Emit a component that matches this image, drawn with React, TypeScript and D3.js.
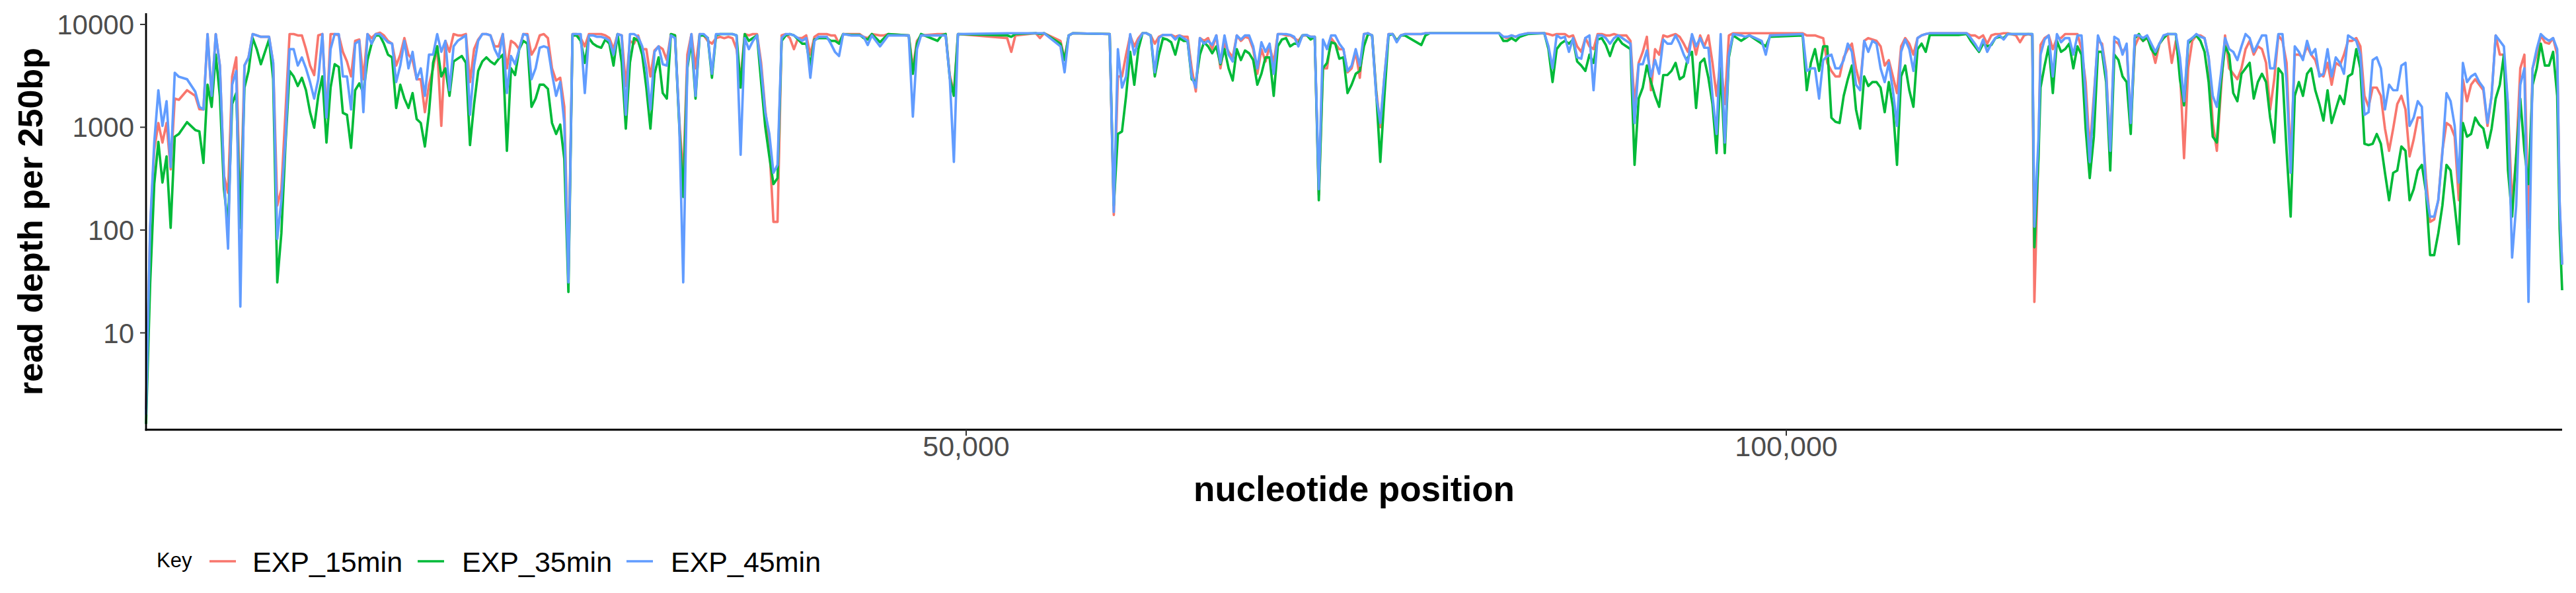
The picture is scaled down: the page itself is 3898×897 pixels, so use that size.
import React from 'react';
import * as d3 from 'd3';

// bin start positions (bp) and read depth per 250bp bin
const positions = [
  0, 250, 500, 750, 1000, 1250, 1500, 1750, 2000,
  2500, 3000, 3250, 3500, 3750, 4000, 4250, 4500, 4750, 5000,
  5250, 5500, 5750, 6000, 6250, 6500, 6750, 7000, 7500, 7750,
  8000, 8250, 8500, 8750, 9000, 9250, 9500, 9750, 10000, 10250,
  10500, 10750, 11000, 11250, 11500, 11750, 12000, 12250, 12500, 12750,
  13000, 13250, 13500, 13750, 14000, 14250, 14500, 14750, 15000, 15250,
  15500, 15750, 16000, 16250, 16500, 16750, 17000, 17250, 17500, 17750,
  18000, 18250, 18500, 18750, 19000, 19250, 19500, 19750, 20000, 20250,
  20500, 20750,
  21000, 21250, 21500, 21750, 22000, 22250, 22500, 22750, 23000, 23250,
  23500, 23750, 24000, 24250, 24500, 24750, 25000, 25250, 25500, 25750,
  26000, 26250, 26500, 26750, 27000, 27250, 27500, 27750, 28000, 28250,
  28500, 28750, 29000, 29250, 29500, 29750, 30000, 30250, 30500, 30750,
  31000, 31250, 31500, 31750, 32000, 32250, 32500, 32750, 33000, 33250,
  33500, 33750, 34000, 34250, 34500, 34750, 35000, 35250, 35500, 35750,
  36000, 36250, 36500, 36750, 37000, 37250, 37500, 37750, 38000, 38250,
  38500, 38750, 39000, 39250, 39500, 39750, 40000, 40250, 40500, 40750,
  41000, 41250, 41500, 41750, 42000,
  42250, 42500, 43000, 43500, 43750, 44000, 44250, 44750, 45000, 45250,
  46500, 46750, 47000, 47250, 48250, 48500, 48750, 49000, 49250, 49500,
  52500, 52750, 53000, 54250, 54500, 54750, 55750, 56000, 56250, 56500,
  58750, 59000, 59250, 59500, 59750, 60000, 60250, 60500, 60750, 61000,
  61250, 61500, 61750, 62000, 62250, 62500, 62750, 63000,
  63250, 63500, 63750, 64000, 64250, 64500, 64750, 65000, 65250, 65500,
  65750, 66000, 66250, 66500, 66750, 67000, 67250, 67500, 67750, 68000,
  68250, 68500, 68750, 69000, 69250, 69500, 69750, 70000, 70250, 70500,
  70750, 71000, 71250, 71500, 71750, 72000, 72250, 72500, 72750, 73000,
  73250, 73500, 73750, 74000, 74250, 74500, 74750, 75000, 75250, 75500,
  75750, 76000, 76250, 76500, 76750, 77750, 78000, 78250, 82500, 82750,
  83000, 83250, 83500, 83750, 84000, 84250,
  85250, 85500, 85750, 86000, 86250, 86500, 86750, 87000, 87250, 87500,
  87750, 88000, 88250, 88500, 88750, 89000, 89250, 89500, 89750, 90000,
  90250, 90500, 90750, 91000, 91250, 91500, 91750, 92000, 92250, 92500,
  92750, 93000, 93250, 93500, 93750, 94000, 94250, 94500, 94750, 95000,
  95250, 95500, 95750, 96000, 96250, 96500, 96750, 97250, 97500, 97750,
  98500, 98750, 99000, 101000, 101250, 101500, 101750, 102000, 102250, 102500,
  102750, 103000, 103250, 103500, 103750, 104000, 104250, 104500, 104750, 105000,
  105250, 105500,
  105750, 106000, 106250, 106500, 106750, 107000, 107250, 107500, 107750, 108000,
  108250, 108500, 108750, 110500, 111000, 111250, 111500, 111750, 112000, 112250,
  112500, 112750, 113000, 113250, 113500, 114000, 114250, 114500, 114750, 115000,
  115125, 115375, 115500, 115750, 116000, 116250, 116500, 116750, 117000, 117250,
  117500, 117750, 118000, 118250, 118500, 118750, 119000, 119250, 119500, 119750,
  120000, 120250, 120500, 120750, 121000, 121250, 121500, 121750, 122000, 122250,
  122500, 122750, 123000, 123250, 123500, 123750, 124000, 124250, 124500, 124750,
  125000, 125250, 125500, 125750, 126000, 126250, 126500,
  126750, 127000, 127250, 127500, 127750, 128000, 128250, 128500, 128750, 129000,
  129250, 129500, 129750, 130000, 130250, 130500, 130750, 131000, 131250, 131500,
  131750, 132000, 132250, 132500, 132750, 133000, 133250, 133500, 133750, 134000,
  134250, 134500, 134750, 135000, 135250, 135500, 135750, 136000, 136250, 136500,
  136750, 137000, 137250, 137500, 137750, 138000, 138250, 138500, 138750, 139000,
  139250, 139500, 139750, 140000, 140250, 140500, 140750, 141000, 141250, 141500,
  141750, 142000, 142250, 142500, 142750, 143000, 143250, 143500, 143750, 144000,
  144250, 144500, 144750, 145000, 145250, 145500, 145750, 146000, 146250, 146500,
  146750, 147000, 147150, 147300,
];

const exp15min = [
  1.8, 100, 600, 1100, 710, 1100, 390, 1900, 1850,
  2290, 2020, 1500, 1490, 8060, 2020, 8060, 3980, 340, 230,
  3120, 4780, 127, 3980, 4780, 8060, 7820, 7580, 7580, 4230,
  173, 250, 1400, 8060, 8060, 7820, 7820, 5750, 3980, 3220,
  7820, 8060, 1240, 8060, 8060, 7820, 5410, 4360, 3120, 6920,
  7130, 2930, 8060, 7360, 8060, 8320, 7820, 6920, 6500, 3980,
  5080, 7360, 5080, 4500, 2930, 2930, 1400, 2590, 3740, 6120,
  1030, 6920, 5410, 8060, 7820, 7820, 8060, 2750, 5750, 7130,
  8060, 8060,
  7820, 6120, 6120, 8060, 3740, 6920, 6500, 5750, 8060, 8060,
  5080, 5930, 7820, 8060, 7360, 3740, 2850, 3030, 1580, 37,
  8060, 8060, 7360, 6120, 8060, 8060, 8060, 8060, 7820, 7360,
  5750, 8060, 7820, 2520, 6920, 6500, 7820, 5750, 5750, 3120,
  5580, 6120, 5750, 4500, 8060, 7820, 1240, 320, 5080, 8060,
  3740, 8060, 7820, 6920, 6500, 7360, 7580, 7360, 7580, 7360,
  5750, 2930, 8060, 7820, 8060, 8060, 4230, 1490, 670, 120,
  120, 7820, 8060, 7360, 5750, 7360, 7360, 7820, 5080, 7580,
  8060, 8060, 8060, 7820, 7820,
  6500, 8060, 8060, 8060, 7580, 7360, 8060, 7820, 7820, 8060,
  7820, 3740, 6920, 7820, 8060, 8060, 8060, 3220, 2150, 8060,
  7360, 5410, 7820, 8210, 7360, 8210, 6920, 4640, 7820, 8210,
  8060, 140, 3120, 3120, 5080, 7820, 6120, 7360, 8210, 8210,
  7820, 6500, 7580, 7910, 7910, 7910, 7580, 7820,
  7580, 7580, 3740, 2230, 7360, 6920, 7360, 5750, 7820, 3740,
  6500, 5410, 4780, 7820, 6920, 7580, 7360, 5750, 3310, 5750,
  4360, 6120, 4230, 8060, 8060, 7820, 7820, 7360, 6920, 7820,
  7820, 7580, 7580, 220, 3740, 3740, 7360, 6500, 5750, 5750,
  3420, 3740, 5410, 3030, 8060, 8210, 7820, 2290, 1000, 3120,
  8060, 8060, 6920, 7820, 8060, 8060, 8210, 8210, 8210, 7580,
  7360, 7820, 7580, 7820, 8060, 8210,
  8210, 8060, 7820, 8060, 8060, 8060, 7580, 7820, 6120, 5410,
  7360, 6120, 5750, 8060, 8060, 7820, 7820, 8060, 7820, 7820,
  7820, 6920, 1680, 4230, 5410, 7580, 2290, 5750, 5080, 7820,
  7580, 7820, 8060, 7580, 6500, 5410, 7820, 5080, 7820, 6120,
  7820, 4230, 2020, 4500, 1680, 7820, 8210, 8210, 8210, 8210,
  8210, 8210, 8210, 8210, 7820, 7820, 7820, 7580, 7360, 4230,
  3530, 3120, 3120, 4780, 5750, 6500, 3740, 2590, 6920, 7360,
  7130, 6920,
  6120, 3980, 4500, 3120, 2150, 6120, 7360, 6500, 5080, 7360,
  7820, 8060, 8210, 8210, 8210, 7820, 7820, 7360, 7820, 6500,
  7820, 8060, 8060, 8210, 8210, 7820, 6710, 7820, 8060, 7820,
  20, 600, 6310, 7360, 7820, 5750, 7360, 7360, 8060, 8060,
  8060, 8060, 5750, 2750, 590, 2020, 6920, 6500, 3530, 590,
  6920, 6500, 5410, 6120, 1100, 6120, 7580, 6920, 7360, 6120,
  4230, 6500, 7360, 8060, 4230, 6920, 3740, 500, 3740, 6920,
  7820, 7820, 7360, 4780, 1100, 590, 2290,
  7820, 3740, 3310, 2930, 3740, 5750, 6920, 5080, 6120, 5750,
  4230, 1490, 2930, 7820, 6920, 4230, 430, 5080, 5080, 4780,
  6120, 5080, 4500, 3310, 3120, 4230, 2590, 4230, 3980, 5080,
  6920, 6920, 7360, 6120, 2020, 1580, 2430, 2430, 2020, 970,
  590, 970, 1680, 2020, 1490, 520, 760, 1240, 1240, 320,
  120, 127, 195, 590, 1100, 1030, 810, 195, 2930, 1790,
  2590, 2930, 2590, 2290, 1030, 2020, 7820, 5080, 5080, 1580,
  173, 520, 3740, 5080, 105, 3740, 5080, 7820, 6710, 6500,
  7360, 5080, 173, 46,
];

const exp35min = [
  1.3, 30, 280, 720, 290, 520, 105, 810, 860,
  1120, 940, 910, 450, 2590, 1580, 5080, 2020, 250, 110,
  1680, 2150, 105, 2430, 3530, 7360, 5750, 4100, 7130, 2930,
  31, 93, 670, 3530, 3120, 2520, 3030, 2290, 1400, 990,
  2020, 3120, 710, 2430, 4100, 3860, 1380, 1320, 630, 2290,
  2670, 2150, 4500, 6500, 7820, 7820, 6500, 5080, 4780, 1540,
  2590, 1900, 1540, 2150, 1200, 1100, 650, 1400, 4230, 6120,
  3120, 3740, 2020, 4360, 4640, 4930, 4230, 670, 1680, 3530,
  4360, 4780,
  4360, 4100, 4640, 5080, 590, 3740, 3220, 5750, 6920, 6500,
  1580, 1900, 2590, 2590, 2360, 1100, 860, 1060, 490, 25,
  7820, 7820, 6920, 4230, 7360, 6500, 6120, 5930, 7130, 6500,
  3980, 8060, 4230, 970, 4230, 7360, 6920, 5080, 2430, 970,
  3310, 4780, 2150, 1900, 8060, 7820, 1100, 210, 3740, 6920,
  1900, 7820, 7820, 7360, 3030, 7820, 8060, 8060, 8060, 8060,
  7820, 2430, 8060, 6920, 7360, 7820, 2750, 1010, 520, 280,
  320, 6920, 7820, 8060, 7820, 7130, 6500, 6500, 3980, 7130,
  7360, 7360, 7360, 6920, 6920,
  6500, 8060, 7910, 7910, 7360, 7130, 8060, 6710, 7360, 8060,
  7820, 3310, 6500, 8060, 6920, 7820, 8060, 3030, 2020, 8060,
  7820, 7580, 8060, 8210, 8060, 8210, 6500, 4500, 7820, 8210,
  8060, 173, 860, 910, 2020, 5410, 2590, 5750, 8210, 8210,
  7820, 3120, 5080, 7360, 7130, 6710, 5080, 7360,
  6920, 6920, 2930, 2750, 5080, 6710, 6120, 5240, 6120, 4100,
  5750, 3740, 2850, 5750, 4500, 5580, 5240, 4500, 2590, 3310,
  4780, 4780, 2020, 6120, 7130, 7360, 6120, 6500, 6500, 7820,
  7910, 7130, 7580, 195, 3740, 4230, 6710, 6500, 4640, 4780,
  2150, 2590, 3310, 3530, 6120, 8060, 7820, 2150, 460, 2020,
  7820, 8060, 6920, 7820, 7820, 6310, 7820, 8210, 8210, 6920,
  6920, 7360, 6920, 7580, 7820, 8060,
  8210, 5750, 2750, 5750, 6500, 6920, 6500, 7130, 4360, 3980,
  3530, 5080, 4230, 7130, 7360, 6310, 4930, 6500, 7360, 6500,
  6120, 5750, 430, 1900, 2430, 3980, 2750, 2020, 1580, 3220,
  3220, 3530, 4230, 2930, 3120, 4780, 5410, 1540, 4230, 4640,
  3030, 1680, 560, 3740, 560, 4780, 7820, 6920, 7360, 7820,
  6500, 6120, 7580, 7820, 2290, 4230, 5750, 3530, 6120, 6120,
  1240, 1130, 1100, 2020, 2930, 3980, 1490, 970, 3120, 2520,
  2750, 2750,
  2430, 1400, 2750, 1580, 430, 3120, 3980, 2290, 1580, 5750,
  6500, 5410, 7910, 7910, 8060, 6920, 6120, 5410, 6500, 6120,
  6310, 7360, 7580, 7360, 8060, 8060, 8060, 8060, 8060, 8060,
  68, 500, 2430, 3980, 6120, 2150, 6920, 5410, 5750, 6500,
  3740, 6120, 5080, 970, 320, 810, 5410, 5410, 2750, 380,
  5080, 4500, 3120, 2750, 860, 7360, 8060, 6920, 7580, 5750,
  5080, 6500, 7360, 8060, 8060, 8060, 2930, 1630, 6500, 7360,
  7820, 6920, 5410, 2750, 810, 710, 2750,
  6120, 5080, 2150, 1790, 3310, 3740, 4230, 1900, 2750, 3310,
  2750, 1240, 710, 3740, 3310, 590, 135, 2020, 2750, 2020,
  3310, 3740, 2290, 1680, 1160, 2290, 1100, 1490, 2020, 1680,
  3120, 3310, 5750, 3740, 690, 670, 690, 860, 690, 360,
  195, 360, 380, 650, 590, 195, 250, 380, 430, 235,
  57, 57, 93, 173, 430, 380, 173, 73, 1100, 810,
  860, 1240, 1060, 970, 630, 970, 1900, 2590, 5080, 380,
  135, 520, 1900, 590, 280, 2590, 3740, 6500, 3980, 3980,
  5410, 2020, 103, 26,
];

const exp45min = [
  1.6, 110, 710, 2290, 1030, 1790, 410, 3390, 3100,
  2930, 2220, 1580, 1490, 8060, 2020, 8060, 3980, 340, 66,
  2590, 3530, 18, 3980, 4780, 8060, 7820, 7580, 7580, 4230,
  82, 195, 760, 5750, 5750, 3980, 4780, 3740, 2750, 1900,
  2930, 8060, 1240, 5750, 8060, 8060, 3120, 3120, 1490, 6500,
  6920, 1400, 8060, 6500, 8060, 8060, 7360, 6710, 6500, 2750,
  3980, 6920, 3740, 5410, 2930, 3740, 2020, 5080, 5080, 8060,
  5410, 6920, 2290, 6120, 6920, 7360, 7820, 1320, 3980, 6920,
  8060, 8060,
  7820, 5750, 4780, 8060, 2150, 4930, 4100, 5750, 8060, 7820,
  2930, 3740, 5930, 6120, 5930, 3310, 2020, 2750, 1100, 31,
  8060, 8060, 8060, 2150, 7820, 7820, 7580, 7580, 7360, 6920,
  5080, 8060, 7820, 1320, 8060, 8060, 7580, 6120, 3740, 1490,
  5410, 6120, 4100, 3980, 7820, 7360, 1240, 31, 3980, 8060,
  2020, 8060, 8060, 7360, 3310, 8060, 8060, 8060, 8060, 8060,
  7820, 540, 7360, 5750, 6920, 7820, 3740, 1400, 860, 360,
  430, 7360, 8060, 8060, 7820, 7360, 6920, 7360, 3030, 6920,
  7580, 7580, 7580, 6500, 5410,
  4930, 8060, 7820, 7820, 7580, 6310, 7820, 6120, 6920, 7820,
  7820, 1270, 5750, 7820, 7820, 7820, 7820, 3030, 460, 8060,
  8210, 8210, 8210, 8210, 8210, 8210, 6120, 3420, 7820, 8210,
  8060, 150, 5750, 2430, 3120, 8060, 5080, 6920, 8210, 8210,
  7820, 3420, 7360, 7910, 7910, 7910, 7130, 7820,
  7360, 6920, 3120, 2430, 7360, 6500, 6920, 6310, 7820, 4230,
  7820, 5080, 4360, 7820, 7130, 7820, 7820, 6120, 3740, 6710,
  5410, 6500, 3310, 8060, 8060, 8060, 7910, 7580, 6120, 7820,
  7910, 7580, 7580, 250, 7130, 5750, 7820, 7820, 6500, 5750,
  3530, 3980, 5750, 3980, 8060, 8210, 7820, 2020, 1100, 3120,
  8060, 8060, 6710, 7820, 8060, 8060, 8210, 8210, 8210, 7580,
  7580, 7820, 7580, 7910, 8060, 8210,
  8210, 6120, 3740, 7820, 7360, 7580, 5410, 7360, 4780, 4640,
  7360, 7820, 2290, 7820, 7820, 7360, 6500, 7360, 7820, 7360,
  6920, 6500, 1100, 4100, 4100, 5580, 3120, 4500, 3310, 7130,
  6500, 6500, 7820, 6500, 5080, 4230, 8060, 6120, 7360, 5930,
  5930, 2020, 860, 8060, 710, 5080, 8060, 7820, 7580, 7820,
  6920, 5080, 7820, 8060, 3530, 3740, 3740, 1900, 4500, 4930,
  5080, 3740, 3740, 4500, 6500, 5410, 2590, 2290, 6920, 5410,
  6920, 6500,
  3740, 2750, 4230, 2290, 1030, 5410, 7130, 5750, 3530, 7360,
  7820, 8060, 8210, 8210, 8210, 7360, 6500, 5580, 7130, 5410,
  6500, 7360, 7820, 7130, 8060, 8060, 8060, 8060, 8060, 8060,
  108, 760, 5080, 7130, 7820, 3120, 8060, 6710, 7360, 7360,
  5080, 7820, 7820, 2020, 460, 1790, 7820, 6120, 3310, 590,
  7580, 7130, 5080, 6500, 1100, 7820, 7820, 7360, 7820, 6500,
  5410, 6500, 7820, 8060, 8060, 8060, 4780, 1790, 6920, 7360,
  8060, 7580, 7360, 4780, 2020, 1580, 3310,
  7360, 5750, 5410, 4500, 6120, 8060, 7360, 5410, 6500, 7820,
  7820, 3740, 3740, 8060, 8060, 2750, 360, 6120, 5410, 4500,
  6920, 5080, 5750, 3120, 3310, 5750, 3120, 4780, 4230, 3310,
  7820, 7360, 6920, 5080, 1320, 1400, 4500, 4780, 3740, 1490,
  2590, 2290, 2290, 3980, 4230, 1030, 1240, 1790, 1580, 236,
  135, 135, 195, 560, 2150, 1790, 1030, 290, 4230, 2750,
  3120, 3310, 2750, 2430, 1100, 2020, 7820, 6920, 6120, 1630,
  54, 173, 2590, 3740, 20, 3740, 5750, 8060, 7360, 6920,
  7360, 5750, 185, 46,
];

const seriesNames = ['EXP_15min', 'EXP_35min', 'EXP_45min'];
const seriesColors = ['#F8766D', '#00BA38', '#619CFF'];
const yTicks = [10, 100, 1000, 10000];
const xTicks = [50000, 100000];

const FONT = '"Liberation Sans", Arial, Helvetica, sans-serif';

export default function App() {
  const width = 3898;
  const height = 897;
  const plot = { left: 221, right: 3877, top: 20, bottom: 650 };

  const x = d3.scaleLinear().domain([0, 147300]).range([plot.left, plot.right]);
  const y = d3
    .scaleLog()
    .domain([Math.pow(10, 0.058), Math.pow(10, 4.109)])
    .range([plot.bottom, plot.top]);

  const allSeries = [exp15min, exp35min, exp45min];
  const line = d3
    .line<number>()
    .defined((d) => d != null && d > 0)
    .x((_, i) => x(positions[i]))
    .y((d) => y(d));

  const legendItems = [
    { key: 317, label: 382 },
    { key: 632, label: 699 },
    { key: 948, label: 1015 },
  ];

  return (
    <svg
      width={width}
      height={height}
      viewBox={`0 0 ${width} ${height}`}
      style={{ position: 'absolute', left: 0, top: 0, background: '#fff' }}
      fontFamily={FONT}
    >
      <rect width={width} height={height} fill="#fff" />

      {/* data lines */}
      <g fill="none" strokeWidth={3.7} strokeLinejoin="round">
        {allSeries.map((vals, i) => (
          <path key={seriesNames[i]} d={line(vals) || ''} stroke={seriesColors[i]} />
        ))}
      </g>

      {/* y axis */}
      <line x1={plot.left} x2={plot.left} y1={plot.top} y2={plot.bottom + 1.4} stroke="#000" strokeWidth={2.8} />
      {yTicks.map((t) => (
        <g key={t}>
          <line x1={plot.left - 9} x2={plot.left} y1={y(t)} y2={y(t)} stroke="#333" strokeWidth={2} />
          <text x={203} y={y(t) + 15} textAnchor="end" fontSize={42} fill="#4D4D4D">
            {t}
          </text>
        </g>
      ))}

      {/* x axis */}
      <line x1={plot.left - 1.4} x2={plot.right} y1={plot.bottom} y2={plot.bottom} stroke="#000" strokeWidth={2.8} />
      {xTicks.map((t) => (
        <g key={t}>
          <line x1={x(t)} x2={x(t)} y1={plot.bottom} y2={plot.bottom + 9} stroke="#333" strokeWidth={2} />
          <text x={x(t)} y={690} textAnchor="middle" fontSize={43} fill="#4D4D4D">
            {d3.format(',')(t)}
          </text>
        </g>
      ))}

      {/* axis titles */}
      <text x={(plot.left + plot.right) / 2} y={758} textAnchor="middle" fontSize={53} fontWeight="bold" fill="#000">
        nucleotide position
      </text>
      <text
        transform={`translate(64, ${(plot.top + plot.bottom) / 2}) rotate(-90)`}
        textAnchor="middle"
        fontSize={52}
        fontWeight="bold"
        fill="#000"
      >
        read depth per 250bp
      </text>

      {/* legend */}
      <text x={237} y={858} fontSize={31} fill="#000">
        Key
      </text>
      {legendItems.map((it, i) => (
        <g key={seriesNames[i]}>
          <line x1={it.key} x2={it.key + 40} y1={849} y2={849} stroke={seriesColors[i]} strokeWidth={3.7} />
          <text x={it.label} y={865} fontSize={43} fill="#000">
            {seriesNames[i]}
          </text>
        </g>
      ))}
    </svg>
  );
}
